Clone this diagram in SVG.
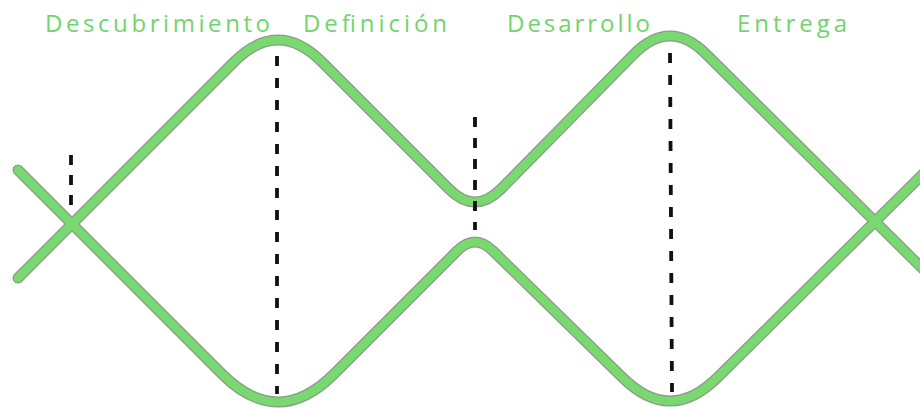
<svg xmlns="http://www.w3.org/2000/svg" width="920" height="408" viewBox="0 0 920 408">
  <style>
    .lbl { font-family: "Open Sans", "Liberation Sans", sans-serif; font-size: 24px; fill: #72d46c; }
    .edge { fill: none; stroke: #8c9a8a; stroke-width: 11; stroke-linecap: round; stroke-linejoin: round; }
    .core { fill: none; stroke: #79d86f; stroke-width: 8.5; stroke-linecap: round; stroke-linejoin: round; }
    .dash { stroke: #111; stroke-width: 3.8; stroke-dasharray: 10 12; }
  </style>
  <rect width="920" height="408" fill="#ffffff"/>
  <g id="labels">
    <text class="lbl" x="45" y="32" textLength="225" lengthAdjust="spacing">Descubrimiento</text>
    <text class="lbl" x="303" y="32" textLength="144" lengthAdjust="spacing">Definición</text>
    <text class="lbl" x="507" y="32" textLength="143" lengthAdjust="spacing">Desarrollo</text>
    <text class="lbl" x="737" y="32" textLength="110" lengthAdjust="spacing">Entrega</text>
  </g>
  <g id="connectors">
    <path class="edge" d="M18,170 L222,374 Q278,430 334,374 L457,251 Q475,233 493,251 L622,377 Q670,425 718,377 L930,167"/>
    <path class="edge" d="M18,278 L234,62 Q278,18 322,62 L449,189 Q475,215 501,189 L634,54 Q670,18 706,54 L930,276"/>
    <path class="core" d="M18,170 L222,374 Q278,430 334,374 L457,251 Q475,233 493,251 L622,377 Q670,425 718,377 L930,167"/>
    <path class="core" d="M18,278 L234,62 Q278,18 322,62 L449,189 Q475,215 501,189 L634,54 Q670,18 706,54 L930,276"/>
  </g>
  <g id="dividers">
    <line class="dash" x1="71" y1="155" x2="71" y2="208" style="stroke-dasharray:10 10"/>
    <line class="dash" x1="277" y1="56" x2="277" y2="394"/>
    <line class="dash" x1="475" y1="117" x2="475" y2="230" style="stroke-dasharray:10 11"/>
    <line class="dash" x1="670" y1="53" x2="672" y2="392"/>
  </g>
</svg>
